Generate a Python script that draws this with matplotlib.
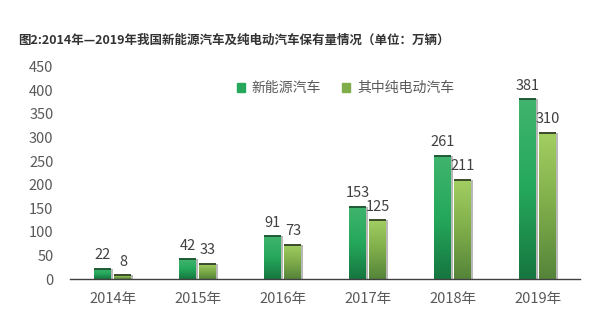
import numpy as np
import matplotlib.pyplot as plt
from matplotlib.colors import LinearSegmentedColormap
from matplotlib.patches import Rectangle

plt.rcParams['font.family'] = ['Noto Sans CJK SC', 'DejaVu Sans']

years = ['2014年', '2015年', '2016年', '2017年', '2018年', '2019年']
nev = [22, 42, 91, 153, 261, 381]
bev = [8, 33, 73, 125, 211, 310]
series_names = ['新能源汽车', '其中纯电动汽车']

# top -> bottom gradient colours for each series
green_cmap = LinearSegmentedColormap.from_list('g', ['#16763f', '#25a85c', '#40b46e'])
lime_cmap = LinearSegmentedColormap.from_list('l', ['#55843a', '#7fad4a', '#a3cf62'])


def gradient_bars(ax, x, heights, width, cmap, edge):
    bars = ax.bar(x, heights, width, color='none', zorder=2)
    grad = np.linspace(0, 1, 256).reshape(-1, 1)
    for b in bars:
        x0, w, h = b.get_x(), b.get_width(), b.get_height()
        # soft shadow on the right side
        ax.add_patch(Rectangle((x0 + w, 0), 0.02, h, color='#8a8a8a', alpha=0.6,
                               lw=0, zorder=1))
        im = ax.imshow(grad, extent=(x0, x0 + w, 0, h), origin='lower', cmap=cmap,
                       aspect='auto', zorder=2)
        im.set_clip_path(b)
        ax.plot([x0, x0 + w], [h, h], color=edge, lw=1.4, zorder=3,
                solid_capstyle='butt')
    return bars


fig = plt.figure(figsize=(6, 3.22), dpi=100)
ax = fig.add_axes([0.117, 0.133, 0.85, 0.66])

x = np.arange(len(years))
w = 0.2
gradient_bars(ax, x - 0.12, nev, w, green_cmap, '#1f5a35')
gradient_bars(ax, x + 0.12, bev, w, lime_cmap, '#3a4a2a')

for xi, v in zip(x, nev):
    ax.text(xi - 0.12, v + 14, str(v), ha='center', va='bottom', fontsize=10.5,
            color='#404040')
for xi, v in zip(x, bev):
    ax.text(xi + 0.12, v + 14, str(v), ha='center', va='bottom', fontsize=10.5,
            color='#404040')

ax.set_xlim(-0.5, 5.5)
ax.set_ylim(0, 450)
ax.set_yticks(range(0, 451, 50))
ax.set_xticks(x)
ax.set_xticklabels(years)
ax.tick_params(axis='both', length=0, labelsize=10.5, labelcolor='#595959')
ax.tick_params(axis='x', pad=9)
ax.tick_params(axis='y', pad=12)
for s in ['top', 'right', 'left']:
    ax.spines[s].set_visible(False)
ax.spines['bottom'].set_color('#404040')
ax.spines['bottom'].set_linewidth(1.0)

# legend
handles = [Rectangle((0, 0), 1, 1, color='#25a85c'),
           Rectangle((0, 0), 1, 1, color='#7fad4a')]
ax.legend(handles, series_names, loc='upper center', bbox_to_anchor=(0.54, 0.99),
          ncol=2, frameon=False, fontsize=10, labelcolor='#595959',
          handlelength=0.6, handleheight=0.6, handletextpad=0.5, columnspacing=1.5)

fig.text(0.03, 0.865, '图2:2014年—2019年我国新能源汽车及纯电动汽车保有量情况（单位：万辆）',
         fontsize=9, fontweight='bold', color='#333333')

fig.savefig('out.png', dpi=100)
